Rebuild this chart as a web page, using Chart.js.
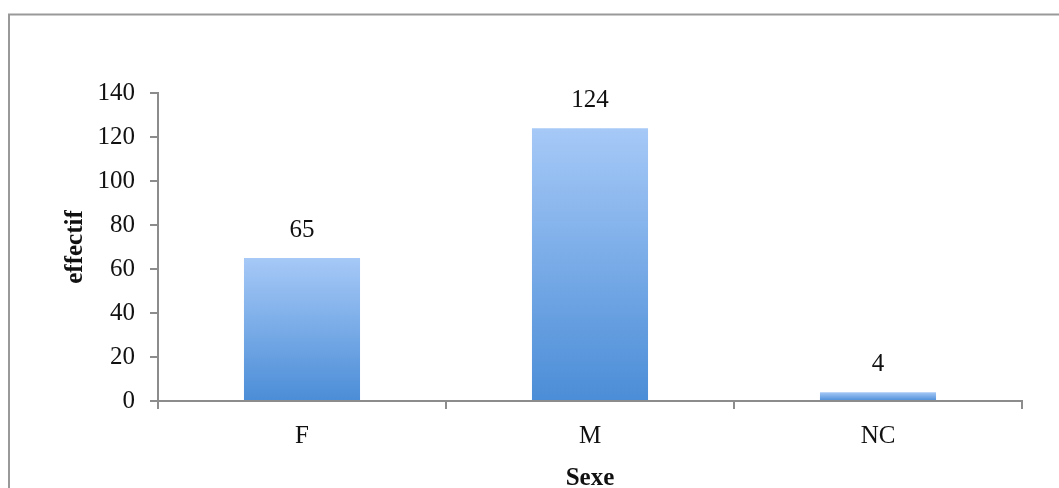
<!DOCTYPE html>
<html>
<head>
<meta charset="utf-8">
<script src="https://cdn.jsdelivr.net/npm/chart.js@4/dist/chart.umd.min.js"></script>
<style>
  html, body { margin: 0; padding: 0; background: #fff; }
  #wrap { width: 1059px; height: 488px; position: relative; }
</style>
</head>
<body>
<div id="wrap"><canvas id="c" width="1059" height="488"></canvas></div>
<script>
const categories = ['F', 'M', 'NC'];
const effectif = [65, 124, 4];
const yTicks = [0, 20, 40, 60, 80, 100, 120, 140];
const xTitle = 'Sexe';
const yTitle = 'effectif';

const SERIF = '"Liberation Serif", "Times New Roman", serif';
const AXIS_COLOR = '#8c8c8c';

const framePlugin = {
  id: 'frame',
  beforeDraw(chart) {
    const ctx = chart.ctx;
    ctx.save();
    ctx.fillStyle = '#fff';
    ctx.fillRect(0, 0, chart.width, chart.height);
    ctx.strokeStyle = '#999';
    ctx.lineWidth = 2;
    ctx.strokeRect(9, 14.5, 3000, 3000);
    ctx.restore();
  }
};

const valueLabels = {
  id: 'valueLabels',
  afterDatasetsDraw(chart) {
    const ctx = chart.ctx;
    const meta = chart.getDatasetMeta(0);
    ctx.save();
    ctx.font = '25px ' + SERIF;
    ctx.fillStyle = '#111';
    ctx.textAlign = 'center';
    ctx.textBaseline = 'middle';
    meta.data.forEach((bar, i) => {
      ctx.fillText(String(chart.data.datasets[0].data[i]), bar.x, bar.y - 28);
    });
    ctx.restore();
  }
};

function barGradient(context) {
  const chart = context.chart;
  if (!chart.chartArea) return '#7aaee8';
  const y = chart.scales.y;
  const top = y.getPixelForValue(context.raw);
  const bottom = y.getPixelForValue(0);
  const g = chart.ctx.createLinearGradient(0, top, 0, bottom === top ? top + 1 : bottom);
  g.addColorStop(0, '#a6c9f7');
  g.addColorStop(1, '#4b8dd7');
  return g;
}

new Chart(document.getElementById('c'), {
  type: 'bar',
  data: {
    labels: categories,
    datasets: [{
      data: effectif,
      backgroundColor: barGradient,
      borderWidth: 0,
      categoryPercentage: 1,
      barPercentage: 0.403
    }]
  },
  options: {
    responsive: false,
    animation: false,
    devicePixelRatio: 1,
    layout: { padding: { top: 93, right: 37, bottom: 0, left: 0 } },
    plugins: { legend: { display: false }, tooltip: { enabled: false } },
    scales: {
      x: {
        grid: { display: true, drawOnChartArea: false, drawTicks: true, tickLength: 8, color: AXIS_COLOR, lineWidth: 2, offset: true },
        border: { display: true, color: AXIS_COLOR, width: 2 },
        ticks: { color: '#111', font: { family: SERIF, size: 25 }, padding: 12, maxRotation: 0 },
        title: { display: true, text: xTitle, color: '#111', font: { family: SERIF, size: 25, weight: 'bold' }, padding: { top: 0, bottom: -6 } },
        afterFit(scale) { scale.height = 87; }
      },
      y: {
        min: 0,
        max: 140,
        afterBuildTicks(scale) { scale.ticks = yTicks.map(v => ({ value: v })); },
        grid: { display: true, drawOnChartArea: false, drawTicks: true, tickLength: 8, color: AXIS_COLOR, lineWidth: 2 },
        border: { display: true, color: AXIS_COLOR, width: 2 },
        ticks: { color: '#111', font: { family: SERIF, size: 25 }, padding: 15 },
        title: { display: true, text: yTitle, color: '#111', font: { family: SERIF, size: 25, weight: 'bold' }, padding: { top: 61, bottom: 0 } },
        afterFit(scale) { scale.width = 158; }
      }
    }
  },
  plugins: [framePlugin, valueLabels]
});
</script>
</body>
</html>
